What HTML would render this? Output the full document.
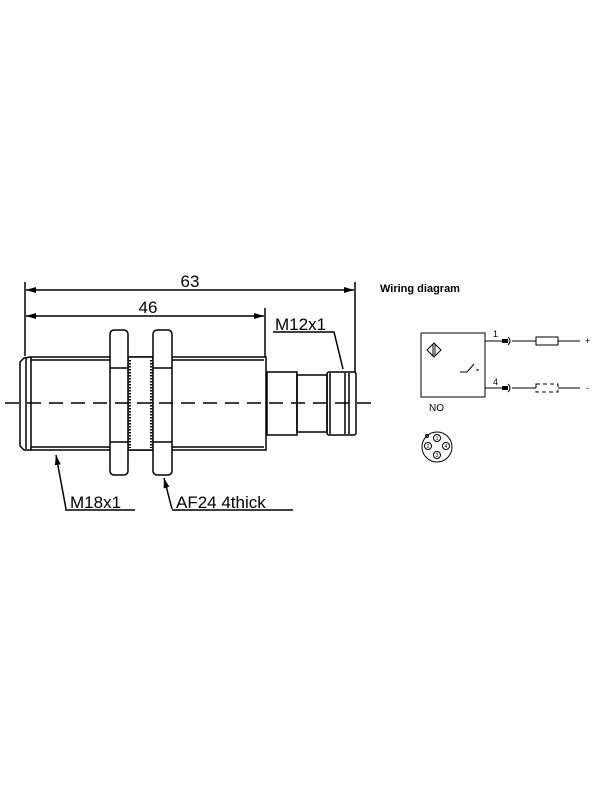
<!DOCTYPE html>
<html><head><style>html,body{margin:0;padding:0;background:#fff}svg{display:block}</style></head>
<body>
<svg width="600" height="800" viewBox="0 0 600 800" xmlns="http://www.w3.org/2000/svg" font-family="Liberation Sans, sans-serif">
<defs>
<marker id="a" viewBox="0 0 10 6" refX="10" refY="3" markerWidth="10" markerHeight="6" orient="auto-start-reverse" markerUnits="userSpaceOnUse"><path d="M0,0 L10,3 L0,6z" fill="#000"/></marker>
</defs>
<g stroke="#000" stroke-width="1.5" fill="none">
<line x1="25" y1="282" x2="25" y2="356"/>
<line x1="355" y1="282" x2="355" y2="372"/>
<line x1="265" y1="308" x2="265" y2="357"/>
<line x1="26" y1="290" x2="354" y2="290" marker-start="url(#a)" marker-end="url(#a)"/>
<line x1="26" y1="316" x2="264" y2="316" marker-start="url(#a)" marker-end="url(#a)"/>
<path d="M31,357 L266,357 L266,450 L31,450 Z"/>
<path d="M31,357 L24,358 L20,362 L20,446 L24,450 L31,450"/>
<line x1="26" y1="358" x2="26" y2="449"/>
<line x1="31" y1="360" x2="264" y2="360"/>
<line x1="31" y1="447" x2="264" y2="447"/>
<rect x="128" y="357" width="25" height="93" fill="#fff"/>
<line x1="130" y1="360" x2="130" y2="448" stroke-dasharray="1.5 1.5" stroke-width="2"/>
<line x1="151" y1="360" x2="151" y2="448" stroke-dasharray="1.5 1.5" stroke-width="2"/>
<rect x="110" y="330" width="18" height="145" rx="4" fill="#fff"/>
<line x1="110" y1="368" x2="128" y2="368"/><line x1="110" y1="442" x2="128" y2="442"/>
<rect x="153" y="330" width="19" height="145" rx="4" fill="#fff"/>
<line x1="153" y1="368" x2="172" y2="368"/><line x1="153" y1="442" x2="172" y2="442"/>
<rect x="267" y="372" width="30" height="63"/>
<rect x="297" y="375" width="30" height="57"/>
<rect x="327" y="372" width="29" height="63" rx="2"/>
<line x1="330" y1="373" x2="330" y2="434"/>
<line x1="345" y1="373" x2="345" y2="434"/>
<line x1="349" y1="373" x2="349" y2="434"/>
<line x1="5" y1="403" x2="373" y2="403" stroke-dasharray="14 8"/>
<polyline points="273,332 334,332 343,369"/>
<polyline points="65,510 135,510"/><line x1="66" y1="509" x2="56" y2="455" marker-end="url(#a)"/>
<polyline points="172,510 293,510"/><line x1="172" y1="509" x2="164" y2="478" marker-end="url(#a)"/>
</g>
<g font-size="17" fill="#000">
<text x="190" y="287" text-anchor="middle">63</text>
<text x="148" y="313" text-anchor="middle">46</text>
<text x="275" y="330">M12x1</text>
<text x="70" y="508">M18x1</text>
<text x="176" y="508">AF24 4thick</text>
</g>
<text x="380" y="292" font-size="11" font-weight="bold">Wiring diagram</text>
<g stroke="#000" stroke-width="1" fill="none">
<rect x="421" y="333" width="64" height="64"/>
<path d="M427,350 L434,343 L441,350 L434,357 Z"/>
<line x1="433" y1="344" x2="433" y2="356"/><line x1="435" y1="344" x2="435" y2="356"/>
<path d="M460,372 L467,372 L474,364 M476,370 L479,370"/>
<line x1="485" y1="341" x2="503" y2="341"/>
<line x1="485" y1="388" x2="503" y2="388"/>
<path d="M508,337 Q512,341 508,345"/><path d="M508,384 Q512,388 508,392"/>
<line x1="512" y1="341" x2="536" y2="341"/><rect x="536" y="337" width="22" height="8"/><line x1="558" y1="341" x2="580" y2="341"/>
<line x1="512" y1="388" x2="536" y2="388"/><rect x="536" y="384" width="22" height="8" stroke-dasharray="4 3"/><line x1="558" y1="388" x2="580" y2="388"/>
<circle cx="437" cy="447" r="15"/>
<circle cx="437" cy="438" r="3.5"/><circle cx="428" cy="446" r="3.5"/><circle cx="446" cy="446" r="3.5"/><circle cx="437" cy="455" r="3.5"/>
<circle cx="427" cy="436" r="1.5"/>
</g>
<g font-size="5" fill="#000" text-anchor="middle">
<text x="437" y="440">1</text><text x="428" y="448">2</text><text x="446" y="448">4</text><text x="437" y="457">3</text>
</g>
<rect x="502" y="339" width="6" height="4" fill="#000"/><rect x="502" y="386" width="6" height="4" fill="#000"/>
<g font-size="9" fill="#000">
<text x="493" y="337">1</text><text x="493" y="385">4</text>
<text x="585" y="344">+</text><text x="586" y="391">-</text>
<text x="429" y="411" font-size="10">NO</text>
</g>
</svg>
</body></html>
